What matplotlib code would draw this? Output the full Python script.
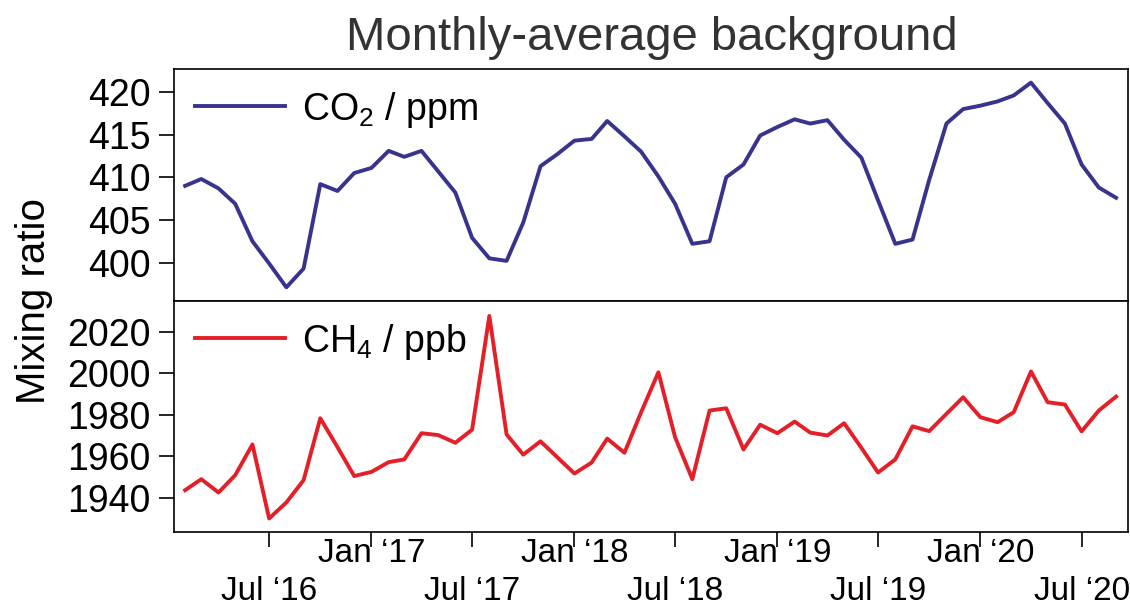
import numpy as np
import pandas as pd
import matplotlib
matplotlib.use("Agg")
import matplotlib.pyplot as plt
import matplotlib.dates as mdates
from matplotlib.ticker import FuncFormatter

plt.rcParams["font.family"] = ["Liberation Sans", "DejaVu Sans"]
plt.rcParams["mathtext.default"] = "regular"

# monthly values, Feb 2016 .. Sep 2020
months = pd.date_range("2016-02-01", periods=56, freq="MS")

co2 = [409.0, 409.8, 408.7, 406.9, 402.5, 399.9, 397.1, 399.3, 409.2, 408.4,
       410.5, 411.1, 413.1, 412.4, 413.1, 410.7, 408.2, 402.9, 400.5, 400.2,
       404.7, 411.3, 412.7, 414.3, 414.5, 416.6, 414.8, 413.0, 410.1, 406.9,
       402.2, 402.5, 410.0, 411.5, 414.9, 415.9, 416.8, 416.3, 416.7, 414.4,
       412.3, 407.3, 402.2, 402.7, 409.7, 416.3, 418.0, 418.4, 418.9, 419.6,
       421.1, 418.7, 416.3, 411.5, 408.8, 407.6]

ch4 = [1943.7, 1949.0, 1942.6, 1950.9, 1965.7, 1930.1, 1937.8, 1948.5, 1978.3, 1964.4,
       1950.5, 1952.5, 1957.2, 1958.5, 1971.1, 1970.2, 1966.5, 1972.8, 2027.5, 1970.5,
       1960.8, 1967.2, 1959.6, 1951.7, 1957.0, 1968.5, 1961.7, 1981.2, 2000.4, 1969.2,
       1949.0, 1982.0, 1983.1, 1963.3, 1975.2, 1971.1, 1976.7, 1971.4, 1970.0, 1975.9,
       1964.1, 1952.2, 1958.5, 1974.4, 1972.1, 1980.4, 1988.4, 1978.8, 1976.4, 1981.2,
       2000.8, 1986.0, 1984.9, 1972.0, 1982.0, 1988.7]

co2_ticks = [400, 405, 410, 415, 420]
ch4_ticks = [1940, 1960, 1980, 2000, 2020]

fig = plt.figure(figsize=(11.3, 6.1), dpi=100)
ax1 = fig.add_axes([0.154, 0.5066, 0.844, 0.3803])
ax2 = fig.add_axes([0.154, 0.1279, 0.844, 0.3787], sharex=ax1)

ax1.plot(months, co2, color="#38338c", lw=2.8, label=r"CO$_2$ / ppm")
ax2.plot(months, ch4, color="#e41f27", lw=2.8, label=r"CH$_4$ / ppb")

ax1.set_ylim(395.5, 422.7)
ax2.set_ylim(1923.6, 2034.7)
ax1.set_yticks(co2_ticks)
ax2.set_yticks(ch4_ticks)
ax1.set_xlim(pd.Timestamp("2016-01-12"), pd.Timestamp("2020-09-22"))

for ax in (ax1, ax2):
    for s in ax.spines.values():
        s.set_linewidth(1.2)
    ax.tick_params(axis="y", direction="out", length=11, width=1.2,
                   labelsize=27, pad=6)
    ax.legend(loc="upper left", frameon=False, fontsize=27,
              handlelength=2.4, handletextpad=0.45,
              borderaxespad=0.15, bbox_to_anchor=(0.0, 1.0))

ax1.tick_params(axis="x", which="both", bottom=False, labelbottom=False)

# Jan labels on the upper row, Jul labels on the lower row
ax2.xaxis.set_major_locator(mdates.MonthLocator(bymonth=[1]))
ax2.xaxis.set_minor_locator(mdates.MonthLocator(bymonth=[7]))
fmt_x = FuncFormatter(lambda v, p: mdates.num2date(v).strftime("%b \u2018%y"))
ax2.xaxis.set_major_formatter(fmt_x)
ax2.xaxis.set_minor_formatter(fmt_x)
ax2.tick_params(axis="x", which="major", direction="out", length=11,
                width=1.2, labelsize=24, pad=-7)
ax2.tick_params(axis="x", which="minor", direction="out", length=11,
                width=1.2, labelsize=24, pad=21)

fig.text(0.5765, 0.938, "Monthly-average background", ha="center",
         va="center", fontsize=34, color="#333333")
fig.text(0.03, 0.5066, "Mixing ratio", rotation=90, ha="center",
         va="center", fontsize=29)

fig.savefig("out.png", dpi=100)
